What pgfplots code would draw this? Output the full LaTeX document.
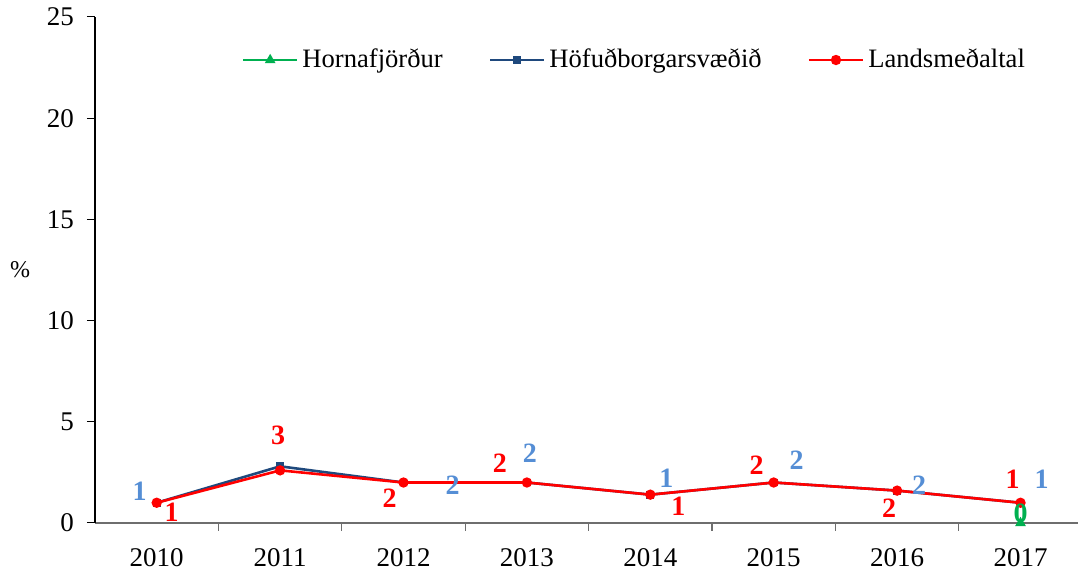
\documentclass[border=0pt]{standalone}
\usepackage{fontspec}
\setmainfont{Liberation Serif}
\usepackage{pgfplots}
\pgfplotsset{compat=1.18}
\definecolor{hgreen}{RGB}{0,176,80}
\definecolor{hblue}{RGB}{31,73,125}
\definecolor{lblue}{RGB}{85,142,213}
\definecolor{lred}{RGB}{255,0,0}
\definecolor{axgray}{RGB}{110,110,110}

% label tables: x, y, label, offset dx/dy (pt)
\pgfplotstableread{
x y lab dx dy
0 1.0 1 -8.5 5.5
2 2.0 2 24.5 -1.5
3 2.0 2 1.5 14.5
4 1.4 1 8 8
5 2.0 2 11.5 11
6 1.6 2 11 2.5
7 1.0 1 10.5 11.5
}\bluelabels
\pgfplotstableread{
x y lab dx dy
0 1.0 1 7.5 -5
1 2.6 3 -1 17.5
2 2.0 2 -7 -8
3 2.0 2 -13.5 9.5
4 1.4 1 14 -6
5 2.0 2 -8.5 8.5
6 1.6 2 -4 -9
7 1.0 1 -4 11.5
}\redlabels

\begin{document}
\begin{tikzpicture}
\begin{axis}[
  scale only axis,
  width=491.5pt, height=253pt,
  xmin=-0.5, xmax=7.466,
  ymin=0, ymax=25,
  ytick={0,5,...,25},
  xtick={0,...,7},
  xticklabels={2010,2011,2012,2013,2014,2015,2016,2017},
  minor xtick={0.5,1.5,...,6.5},
  axis x line=bottom, axis y line=left,
  axis line style={-},
  x axis line style={draw=axgray, line width=0.8pt},
  y axis line style={draw=black, line width=0.6pt},
  tick align=outside,
  major tick length=4pt, minor tick length=4pt,
  xtick style={draw=none},
  minor x tick style={draw=axgray, line width=0.6pt},
  ytick style={draw=black, line width=0.5pt},
  tick label style={font=\fontsize{13.5}{16}\selectfont},
  /pgf/number format/assume math mode=true,
  y tick label style={xshift=-3pt},
  x tick label style={yshift=-5pt},
  ylabel={\%},
  every axis y label/.style={at={(rel axis cs:0,0.5)}, anchor=center, xshift=-37.5pt, font=\fontsize{12}{14}\selectfont},
  legend columns=3,
  legend style={draw=none, fill=none, at={(rel axis cs:0.149,0.915)}, anchor=west,
    font=\fontsize{13.3}{16}\selectfont, /tikz/every even column/.append style={column sep=21pt},
    inner sep=0pt},
  legend image code/.code={\draw[mark repeat=2,mark phase=2,#1] plot coordinates {(0pt,0pt) (13.5pt,0pt) (27pt,0pt)};},
  every axis plot/.append style={line width=1.3pt},
  enlargelimits=false,
]
\addplot[color=hgreen, mark=triangle*, mark size=1.8pt] coordinates {(7,0)};
\addlegendentry{Hornafjörður}
\addplot[color=hblue, mark=square*, mark size=1.3pt] coordinates {
(0,1.0) (1,2.8) (2,2.0) (3,2.0) (4,1.4) (5,2.0) (6,1.6) (7,1.0)};
\addlegendentry{Höfuðborgarsvæðið}
\addplot[color=lred, mark=*, mark size=1.9pt] coordinates {
(0,1.0) (1,2.6) (2,2.0) (3,2.0) (4,1.4) (5,2.0) (6,1.6) (7,1.0)};
\addlegendentry{Landsmeðaltal}

\addplot[draw=none, mark=none, forget plot, nodes near coords, point meta=explicit symbolic,
  visualization depends on={\thisrow{dx}\as\dx},
  visualization depends on={\thisrow{dy}\as\dy},
  nodes near coords style={anchor=center, xshift=\dx pt, yshift=\dy pt, text=lblue, font=\fontsize{14}{16}\selectfont\bfseries}]
  table[x=x, y=y, meta=lab] {\bluelabels};
\addplot[draw=none, mark=none, forget plot, nodes near coords, point meta=explicit symbolic,
  visualization depends on={\thisrow{dx}\as\dx},
  visualization depends on={\thisrow{dy}\as\dy},
  nodes near coords style={anchor=center, xshift=\dx pt, yshift=\dy pt, text=lred, font=\fontsize{14}{16}\selectfont\bfseries}]
  table[x=x, y=y, meta=lab] {\redlabels};
\addplot[draw=none, mark=none, forget plot, nodes near coords, point meta=explicit symbolic,
  nodes near coords style={anchor=center, yshift=5pt, text=hgreen, font=\fontsize{14}{16}\selectfont\bfseries}]
  table[meta=lab] {
x y lab
7 0 0
};
\end{axis}
\pgfresetboundingbox
\path ([shift={(-47.5pt,-24pt)}]current axis.south west) rectangle ([shift={(0pt,8.5pt)}]current axis.north east);
\end{tikzpicture}
\end{document}
